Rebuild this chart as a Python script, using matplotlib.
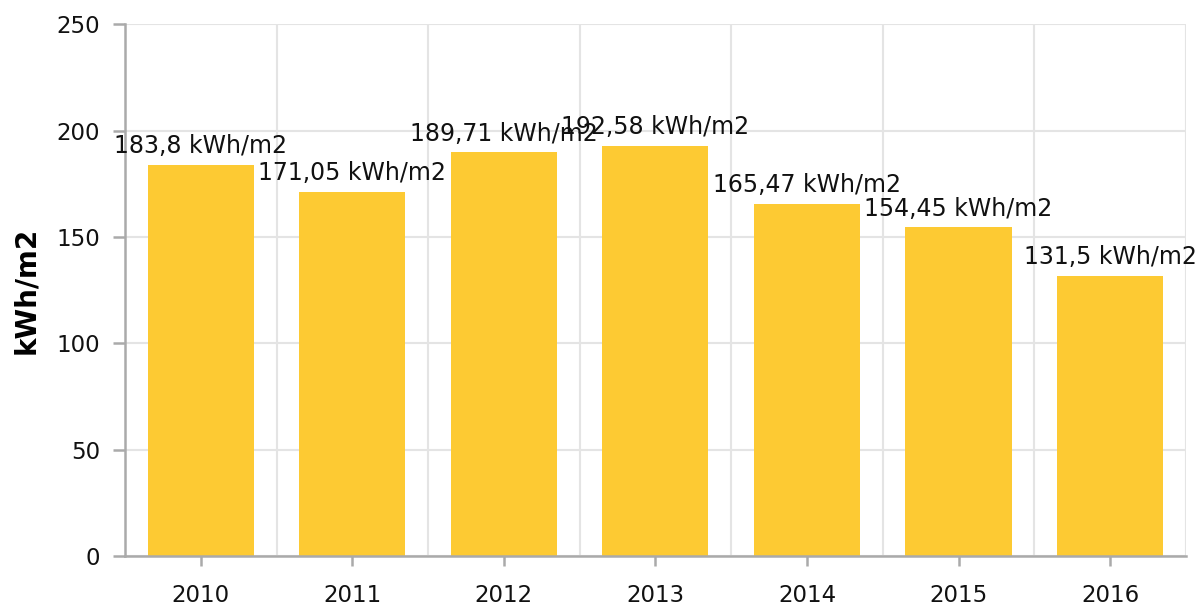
import matplotlib
matplotlib.use('Agg')
from matplotlib import pyplot as plt
import numpy as np

years = ['2010', '2011', '2012', '2013', '2014', '2015', '2016']
values = [183.8, 171.05, 189.71, 192.58, 165.47, 154.45, 131.5]
unit = 'kWh/m2'

plt.rcParams['font.family'] = ['DejaVu Sans']

fig = plt.figure(figsize=(11.99, 6.05), dpi=100)
ax = fig.add_axes([0.1043, 0.081, 0.8847, 0.879])

x = np.arange(len(years))
ax.bar(x, values, width=0.7, color='#fdca33', zorder=2)

for xi, v in zip(x, values):
    ax.annotate(str(v).replace('.', ',') + ' ' + unit, (xi, v),
                xytext=(0, 5), textcoords='offset points',
                ha='center', va='bottom', fontsize=17, color='#111111', zorder=3)

ax.set_xlim(-0.5, len(years) - 0.5)
ax.set_ylim(0, 250)
ax.set_yticks(range(0, 251, 50))
ax.set_xticks(x)
ax.set_xticklabels(years)

# gridlines between categories
ax.set_xticks(x[:-1] + 0.5, minor=True)
ax.grid(axis='y', color='#e4e4e4', linewidth=1.5, zorder=0)
ax.grid(axis='x', which='minor', color='#e4e4e4', linewidth=1.5, zorder=0)
ax.axvline(len(years) - 0.5, color='#e4e4e4', linewidth=1.5, zorder=0)
ax.tick_params(axis='x', which='minor', length=0)

for s in ['top', 'right']:
    ax.spines[s].set_visible(False)
for s in ['left', 'bottom']:
    ax.spines[s].set_color('#aaaaaa')
    ax.spines[s].set_linewidth(1.8)

ax.tick_params(axis='x', which='major', length=7, width=1.8, color='#aaaaaa',
               pad=13, labelsize=16.5, labelcolor='#111111')
ax.tick_params(axis='y', length=9, width=1.8, color='#aaaaaa',
               pad=9, labelsize=16.5, labelcolor='#111111')

ax.set_ylabel(unit, fontsize=20, fontweight='bold', labelpad=12)

fig.savefig('out.png', dpi=100)
